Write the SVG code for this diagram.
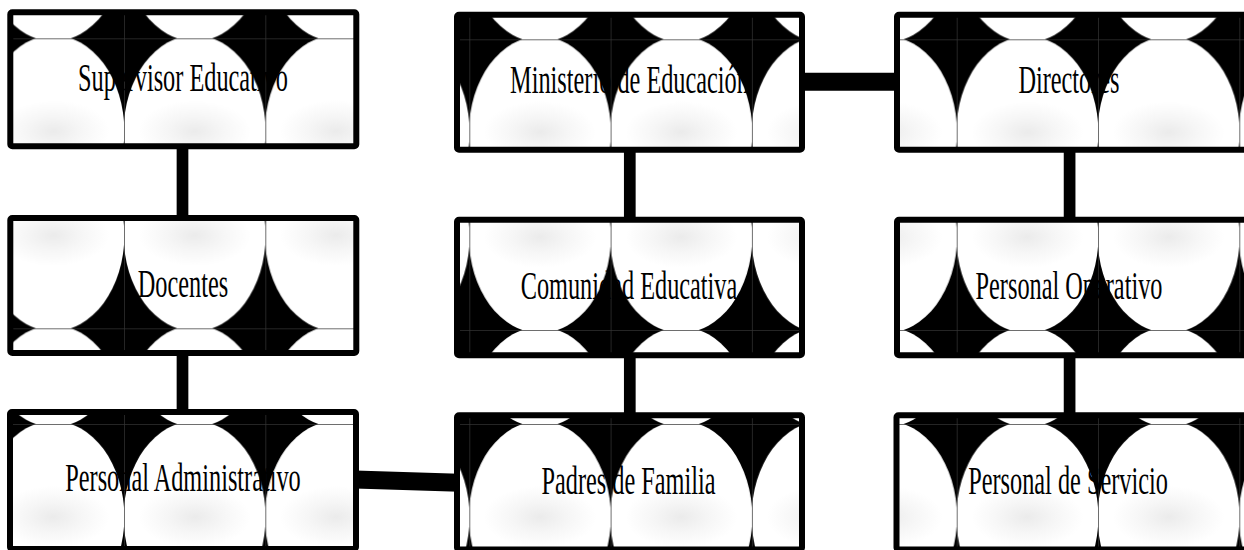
<svg xmlns="http://www.w3.org/2000/svg" width="1244" height="550" viewBox="0 0 1244 550">
<style>
.box{fill:none;stroke:#000;stroke-width:6}
.bg{fill:url(#pat)}
.t{font-family:"Liberation Serif","Times New Roman",serif;font-size:24.3px;text-anchor:middle;fill:#000}
.c{stroke:#000;fill:none}
</style>
<defs>
<radialGradient id="grad" gradientUnits="userSpaceOnUse" cx="70.65" cy="93" r="56" gradientTransform="translate(70.65 93) scale(1 0.55) translate(-70.65 -93)">
<stop offset="0" stop-color="#ebebeb"/>
<stop offset="0.5" stop-color="#f6f6f6"/>
<stop offset="1" stop-color="#ffffff"/>
</radialGradient>
<pattern id="pat" patternUnits="userSpaceOnUse" width="141.3" height="186">
<rect width="141.3" height="186" fill="#000"/>
<ellipse cx="70.65" cy="93" rx="71" ry="96" fill="url(#grad)"/>
<path d="M0.4 0V186M0 0.4H141.3" stroke="#333" stroke-width="0.8" fill="none"/>
</pattern>
</defs>
<rect width="1244" height="550" fill="#fff"/>
<g id="connectors">
<line class="c" x1="182.5" y1="146" x2="182.5" y2="220" stroke-width="11.7"/>
<line class="c" x1="182.5" y1="352" x2="182.5" y2="414" stroke-width="11.7"/>
<line class="c" x1="629.8" y1="148" x2="629.8" y2="222" stroke-width="11.7"/>
<line class="c" x1="629.8" y1="354" x2="629.8" y2="418" stroke-width="11.7"/>
<line class="c" x1="1069.6" y1="148" x2="1069.6" y2="222" stroke-width="11.7"/>
<line class="c" x1="1069.6" y1="354" x2="1069.6" y2="418" stroke-width="11.7"/>
<line class="c" x1="802" y1="81.7" x2="898" y2="81.7" stroke-width="18"/>
<line class="c" x1="355" y1="479.5" x2="459" y2="482.8" stroke-width="18"/>
</g>
<g id="n1">
<g transform="translate(124 38.3)"><rect class="bg" x="-113.7" y="-26" width="346" height="134"/></g>
<rect class="box" x="10.3" y="12.3" width="346" height="134" rx="2"/>
<text class="t" transform="translate(183 90.7) scale(1 1.65)">Supervisor Educativo</text>
</g>
<g id="n2">
<g transform="translate(469.3 39.3)"><rect class="bg" x="-12.3" y="-24.6" width="345" height="135"/></g>
<rect class="box" x="457" y="14.7" width="345" height="135" rx="2"/>
<text class="t" transform="translate(629.5 93.3) scale(1 1.65)">Ministerio de Educación</text>
</g>
<g id="n3">
<g transform="translate(956.7 39.3)"><rect class="bg" x="-59.7" y="-24.6" width="360" height="135"/></g>
<rect class="box" x="897" y="14.7" width="360" height="135" rx="2"/>
<text class="t" transform="translate(1069 93.3) scale(1 1.65)">Directores</text>
</g>
<g id="n4">
<g transform="translate(124 328.3)"><rect class="bg" x="-113.7" y="-110.3" width="346" height="135"/></g>
<rect class="box" x="10.3" y="218" width="346" height="135" rx="2"/>
<text class="t" transform="translate(183 296.7) scale(1 1.65)">Docentes</text>
</g>
<g id="n5">
<g transform="translate(469.3 330)"><rect class="bg" x="-12.3" y="-110.3" width="345" height="135.6"/></g>
<rect class="box" x="457" y="219.7" width="345" height="135.6" rx="2"/>
<text class="t" transform="translate(629 299.3) scale(1 1.65)">Comunidad Educativa</text>
</g>
<g id="n6">
<g transform="translate(956.7 330)"><rect class="bg" x="-59.7" y="-110.3" width="360" height="135.6"/></g>
<rect class="box" x="897" y="219.7" width="360" height="135.6" rx="2"/>
<text class="t" transform="translate(1069 299.3) scale(1 1.65)">Personal Operativo</text>
</g>
<g id="n7">
<g transform="translate(124 424)"><rect class="bg" x="-114" y="-12" width="346" height="137"/></g>
<rect class="box" x="10" y="412" width="346" height="137" rx="2"/>
<text class="t" transform="translate(183 491) scale(1 1.65)">Personal Administrativo</text>
</g>
<g id="n8">
<g transform="translate(469.3 424)"><rect class="bg" x="-12.3" y="-8.7" width="345" height="134.2"/></g>
<rect class="box" x="457" y="415.3" width="345" height="134.2" rx="2"/>
<text class="t" transform="translate(628.5 494.3) scale(1 1.65)">Padres de Familia</text>
</g>
<g id="n9">
<g transform="translate(956.7 424)"><rect class="bg" x="-60.2" y="-8.7" width="360" height="134.2"/></g>
<rect class="box" x="896.5" y="415.3" width="360" height="134.2" rx="2"/>
<text class="t" transform="translate(1068 494.3) scale(1 1.65)">Personal de Servicio</text>
</g>
</svg>
